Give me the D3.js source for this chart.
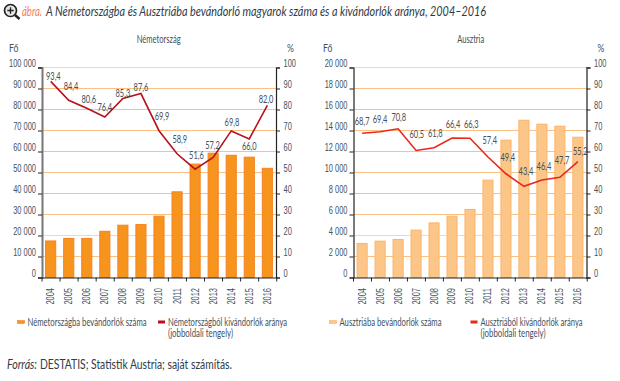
<!DOCTYPE html>
<html>
<head>
<meta charset="utf-8">
<script src="https://cdn.jsdelivr.net/npm/d3@7"></script>
<style>
  html, body { margin: 0; padding: 0; background: #fff; }
  svg { display: block; font-family: Lato, "Open Sans", sans-serif; }
  text { fill: #44505c; }
</style>
</head>
<body>
<svg id="chart"></svg>
<script>
let svgWidth = 620;
let svgHeight = 381;

const years = ['2004', '2005', '2006', '2007', '2008', '2009', '2010', '2011', '2012', '2013', '2014', '2015', '2016'];
const germanyBars = [17400, 18600, 18600, 22000, 24900, 25200, 29200, 40800, 54000, 59200, 58200, 57300, 52000];
const germanyRate = [93.4, 84.4, 80.6, 76.4, 85.3, 87.6, 69.9, 58.9, 51.6, 57.2, 69.8, 66.0, 82.0];
const austriaBars = [3240, 3460, 3620, 4510, 5200, 5840, 6480, 9270, 13080, 14980, 14600, 14410, 13360];
const austriaRate = [68.7, 69.4, 70.8, 60.5, 61.8, 66.4, 66.3, 57.4, 49.4, 43.4, 46.4, 47.7, 55.2];
const germanyTicks = [0, 10000, 20000, 30000, 40000, 50000, 60000, 70000, 80000, 90000, 100000];
const austriaTicks = [0, 2000, 4000, 6000, 8000, 10000, 12000, 14000, 16000, 18000, 20000];
const rateTicks = [0, 10, 20, 30, 40, 50, 60, 70, 80, 90, 100];

// label offsets from the line point, the labels dodge the line by hand
const germanyLabelShift = [[2.7, -1], [2.3, -10], [2, -5], [0, -6], [0, -1.5], [0, -2.5], [3, -10.7], [2.7, -11], [1.3, -10], [-0.7, -8.5], [0.7, -5], [0, 10.6], [-1.3, -2.3]];
const austriaLabelShift = [[0, -8], [0, -9], [0.7, -8], [0.8, -12], [1.2, -11], [1, -10], [1.3, -10], [1.8, -13], [1.9, -12.6], [2, -11], [2, -10.5], [2.2, -13.5], [2.5, -7]];

const chartFont = '10.8px';
const squeezeFactor = 0.69;

let svg = d3.select('#chart').attr('width', svgWidth).attr('height', svgHeight);

const fmt = d => d3.format(',')(d).replace(/,/g, ' ');

// no condensed font is installed, so the text is narrowed to the reference width
function squeeze(selection, factor) {
  selection.each(function() {
    let len = this.getComputedTextLength();
    d3.select(this).attr('textLength', len * factor).attr('lengthAdjust', 'spacingAndGlyphs');
  });
}

function fitWidth(selection, width) {
  selection.attr('textLength', width).attr('lengthAdjust', 'spacingAndGlyphs');
}

function drawPanel(cfg)
{
  let yBar = d3.scaleLinear().domain([0, cfg.barMax]).range([277.5, 67.5]);
  let yRate = d3.scaleLinear().domain([0, 100]).range([277.5, 67.5]);
  let x = d3.scaleBand().domain(years).range([cfg.left, cfg.right]).paddingInner(0.44).paddingOuter(0.2);
  let xCenter = d => x(d) + x.bandwidth() / 2;

  let g = svg.append('g');

  // ============================================================
  // Grid, bars
  // ============================================================
  g.selectAll('.grid').data(cfg.ticks.slice(1)).enter().append('line')
    .attr('x1', cfg.left).attr('x2', cfg.right)
    .attr('y1', d => yBar(d)).attr('y2', d => yBar(d))
    .style('stroke', '#fbc083').style('stroke-width', 1)
    .style('opacity', (d, i) => (i === 1 || i === 9) ? 0.65 : 1);

  g.selectAll('.bar').data(cfg.bars).enter().append('rect')
    .attr('x', (d, i) => x(years[i]))
    .attr('y', d => yBar(d))
    .attr('width', x.bandwidth())
    .attr('height', d => yBar(0) - yBar(d))
    .style('fill', cfg.barFill)
    .style('stroke', cfg.barStroke)
    .style('stroke-width', 1);

  // ============================================================
  // Axes
  // ============================================================
  let leftAxis = g.append('g')
    .attr('transform', `translate(${cfg.left}, 0)`)
    .call(d3.axisLeft(yBar).tickValues(cfg.ticks).tickFormat(fmt).tickSize(4).tickPadding(2));
  let rightAxis = g.append('g')
    .attr('transform', `translate(${cfg.right}, 0)`)
    .call(d3.axisRight(yRate).tickValues(rateTicks).tickSize(4).tickPadding(3.5));
  let bottomAxis = g.append('g')
    .attr('transform', 'translate(0, 277.5)')
    .call(d3.axisBottom(x).tickSize(0).tickPadding(10));
  bottomAxis.selectAll('text')
    .attr('transform', 'rotate(-90)')
    .attr('x', -10.5).attr('y', 0).attr('dy', '0.32em')
    .style('text-anchor', 'end');

  // year separators sit between the bars
  bottomAxis.selectAll('.sep').data(d3.range(years.length + 1)).enter().append('line')
    .attr('x1', i => cfg.left + i * x.step()).attr('x2', i => cfg.left + i * x.step())
    .attr('y1', 0).attr('y2', 4)
    .style('stroke', '#222');

  [leftAxis, rightAxis, bottomAxis].forEach(a => {
    a.selectAll('text').style('font-size', chartFont).style('fill', '#44505c');
    a.selectAll('.tick line').style('stroke', '#222');
    a.select('.domain').style('stroke', '#222').style('stroke-width', 1.2);
    squeeze(a.selectAll('text'), squeezeFactor);
  });
  // the value labels sit a little above their ticks in the reference
  leftAxis.selectAll('text').attr('dy', '-0.08em');
  rightAxis.selectAll('text').attr('dy', '-0.08em');
  leftAxis.select('.domain').style('stroke', cfg.leftAxisColor).style('stroke-width', cfg.leftAxisWidth);
  rightAxis.select('.domain').style('stroke', cfg.rightAxisColor).style('stroke-width', cfg.rightAxisWidth);

  // ============================================================
  // Rate line and its labels
  // ============================================================
  let line = d3.line().x((d, i) => xCenter(years[i])).y(d => yRate(d));
  g.append('path').datum(cfg.rate)
    .attr('d', line)
    .style('fill', 'none')
    .style('stroke', cfg.lineColor)
    .style('stroke-width', 1.6);

  g.selectAll('.rateLabel').data(cfg.rate).enter().append('text')
    .attr('x', (d, i) => xCenter(years[i]) + cfg.labelShift[i][0])
    .attr('y', (d, i) => yRate(d) + cfg.labelShift[i][1])
    .attr('text-anchor', 'middle')
    .style('font-size', chartFont)
    .text(d => d.toFixed(1).replace('.', ','))
    .call(squeeze, squeezeFactor);

  // ============================================================
  // Titles, unit labels, legend
  // ============================================================
  g.append('text').attr('x', cfg.titleX).attr('y', 42.5).attr('text-anchor', 'middle').style('font-size', chartFont).text(cfg.title).call(fitWidth, cfg.titleWidth);
  g.append('text').attr('x', cfg.unitLeft).attr('y', 51.5).style('font-size', chartFont).text('Fő').call(squeeze, 0.8);
  g.append('text').attr('x', cfg.unitRight).attr('y', 51.5).style('font-size', chartFont).text('%').call(squeeze, 0.8);

  g.append('rect').attr('x', cfg.legendBarX).attr('y', 320.5).attr('width', 7).attr('height', 3)
    .style('fill', cfg.barFill).style('stroke', cfg.barStroke).style('stroke-width', 0.6);
  g.append('text').attr('x', cfg.legendBarX + 10).attr('y', 325.5).style('font-size', chartFont).text(cfg.legendBar).call(fitWidth, cfg.legendBarWidth);
  g.append('rect').attr('x', cfg.legendLineX).attr('y', 320.5).attr('width', 7).attr('height', 3)
    .style('fill', cfg.lineColor);
  g.append('text').attr('x', cfg.legendLineX + 10).attr('y', 325.5).style('font-size', chartFont).text(cfg.legendLine).call(fitWidth, cfg.legendLineWidth);
  g.append('text').attr('x', cfg.legendLineX + 10).attr('y', 337).style('font-size', chartFont).text('(jobboldali tengely)').call(fitWidth, 65);
}

drawPanel({
  left: 42, right: 276, barMax: 100000, ticks: germanyTicks, bars: germanyBars, rate: germanyRate,
  barFill: '#f7941e', barStroke: '#f58220', lineColor: '#b5121b',
  leftAxisColor: '#777', leftAxisWidth: 2, rightAxisColor: '#222', rightAxisWidth: 1.2, labelShift: germanyLabelShift,
  title: 'Németország', titleX: 158.7, titleWidth: 44, unitLeft: 9, unitRight: 287,
  legendBarX: 17.5, legendBar: 'Németországba bevándorlók száma', legendBarWidth: 119,
  legendLineX: 158, legendLine: 'Németországból kivándorlók aránya', legendLineWidth: 119
});

drawPanel({
  left: 353.5, right: 586.5, barMax: 20000, ticks: austriaTicks, bars: austriaBars, rate: austriaRate,
  barFill: '#fdc689', barStroke: '#fbb468', lineColor: '#e8281b',
  leftAxisColor: '#222', leftAxisWidth: 1.2, rightAxisColor: '#777', rightAxisWidth: 2, labelShift: austriaLabelShift,
  title: 'Ausztria', titleX: 470.7, titleWidth: 27, unitLeft: 323, unitRight: 597.5,
  legendBarX: 329.5, legendBar: 'Ausztriába bevándorlók száma', legendBarWidth: 102,
  legendLineX: 470.5, legendLine: 'Ausztriából kivándorlók aránya', legendLineWidth: 102
});

// ============================================================
// Page heading and source
// ============================================================
svg.append('text').attr('x', 22).attr('y', 16)
  .style('font-size', '13.5px').style('font-style', 'italic').style('fill', '#f47b50')
  .text('ábra.').call(fitWidth, 20);
svg.append('text').attr('x', 46).attr('y', 16)
  .style('font-size', '13.5px').style('font-style', 'italic').style('fill', '#2f3b47')
  .text('A Németországba és Ausztriába bevándorló magyarok száma és a kivándorlók aránya, 2004–2016')
  .call(fitWidth, 440);

svg.append('text').attr('x', 7).attr('y', 369)
  .style('font-size', '13.5px').style('font-style', 'italic').style('fill', '#2f3b47')
  .text('Forrás:').call(fitWidth, 30);
svg.append('text').attr('x', 40).attr('y', 369)
  .style('font-size', '13.5px').style('fill', '#2f3b47')
  .text('DESTATIS; Statistik Austria; saját számítás.').call(fitWidth, 192);

// magnifier icon
let icon = svg.append('g').attr('transform', 'translate(10.5, 10.5)');
icon.append('circle').attr('r', 6).style('fill', '#e8e8e8').style('stroke', '#222').style('stroke-width', 1.7);
icon.append('path').attr('d', 'M-3.2 0H3.2M0 -3.2V3.2').style('stroke', '#222').style('stroke-width', 1.4);
icon.append('line').attr('x1', 4.5).attr('y1', 4.5).attr('x2', 9).attr('y2', 8.5).style('stroke', '#222').style('stroke-width', 2.4);
</script>
</body>
</html>
